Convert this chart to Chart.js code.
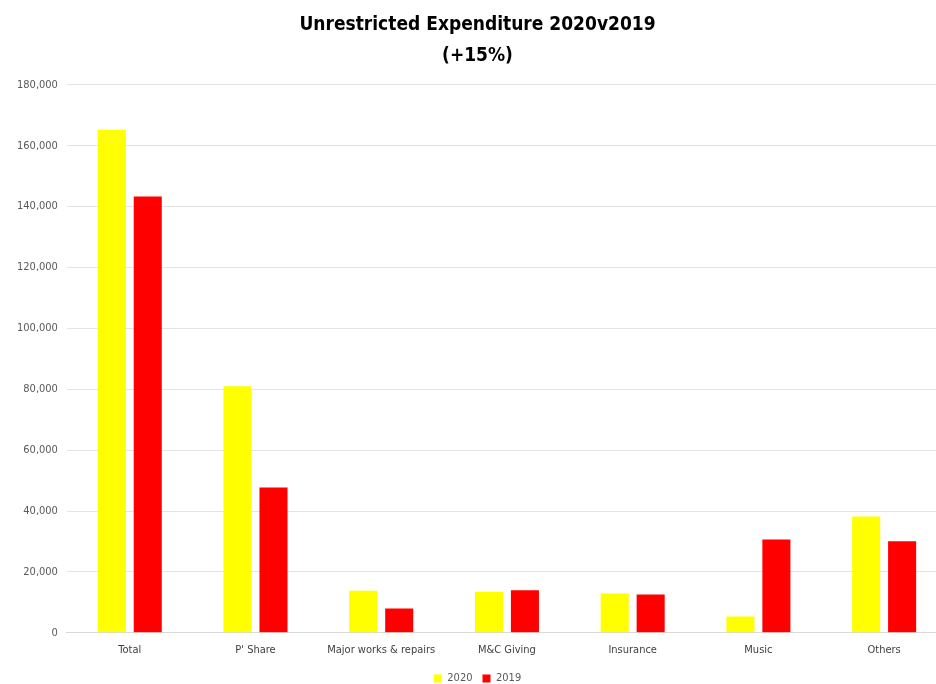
<!DOCTYPE html>
<html>
<head>
<meta charset="utf-8">
<script src="https://cdn.jsdelivr.net/npm/chart.js@4/dist/chart.umd.min.js"></script>
<style>
  html, body { margin: 0; padding: 0; background: #fff; overflow: hidden; }
  #wrap { width: 964px; height: 684px; position: relative; }
</style>
</head>
<body>
<div id="wrap"><canvas id="chart"></canvas></div>
<script>
const categories = ["Total", "P' Share", "Major works & repairs", "M&C Giving", "Insurance", "Music", "Others"];
const values2020 = [165200, 81000, 13800, 13450, 12900, 5350, 38200];
const values2019 = [143300, 47700, 8000, 14000, 12600, 30650, 30100];
const titleLines = ["Unrestricted Expenditure 2020v2019", "(+15%)"];

const FONT = "'Liberation Sans Narrow', 'DejaVu Sans Condensed', 'Liberation Sans', sans-serif";

// the reference picture is cropped on the right, so the canvas is a bit wider than the window
const ctx = document.getElementById("chart").getContext("2d");
new Chart(ctx, {
  type: "bar",
  data: {
    labels: categories,
    datasets: [
      { label: "2020", data: values2020, backgroundColor: "#ffff00", categoryPercentage: 0.572, barPercentage: 0.78 },
      { label: "2019", data: values2019, backgroundColor: "#ff0000", categoryPercentage: 0.572, barPercentage: 0.78 }
    ]
  },
  options: {
    responsive: true,
    maintainAspectRatio: false,
    animation: false,
    layout: { padding: { left: 8, right: 17, top: 6, bottom: -10 } },
    plugins: {
      title: {
        display: true,
        text: titleLines,
        color: "#000",
        font: { family: FONT, size: 19, weight: "bold", lineHeight: 1.6 },
        padding: { top: 4, bottom: 14 }
      },
      legend: {
        position: "bottom",
        labels: {
          boxWidth: 8, boxHeight: 8, padding: 10,
          color: "#595959",
          font: { family: FONT, size: 11 }
        }
      },
      tooltip: { enabled: false }
    },
    scales: {
      x: {
        grid: { display: false },
        border: { color: "#d9d9d9" },
        ticks: { color: "#404040", font: { family: FONT, size: 11 }, padding: 3, maxRotation: 0, autoSkip: false },
        afterFit: s => { s.height += 3; }
      },
      y: {
        min: 0, max: 180000,
        grid: { color: "#e3e3e3", drawTicks: false },
        border: { display: false },
        ticks: {
          stepSize: 20000,
          color: "#595959",
          font: { family: FONT, size: 11 },
          padding: 9,
          callback: v => v.toLocaleString("en-US")
        }
      }
    }
  }
});
</script>
</body>
</html>
